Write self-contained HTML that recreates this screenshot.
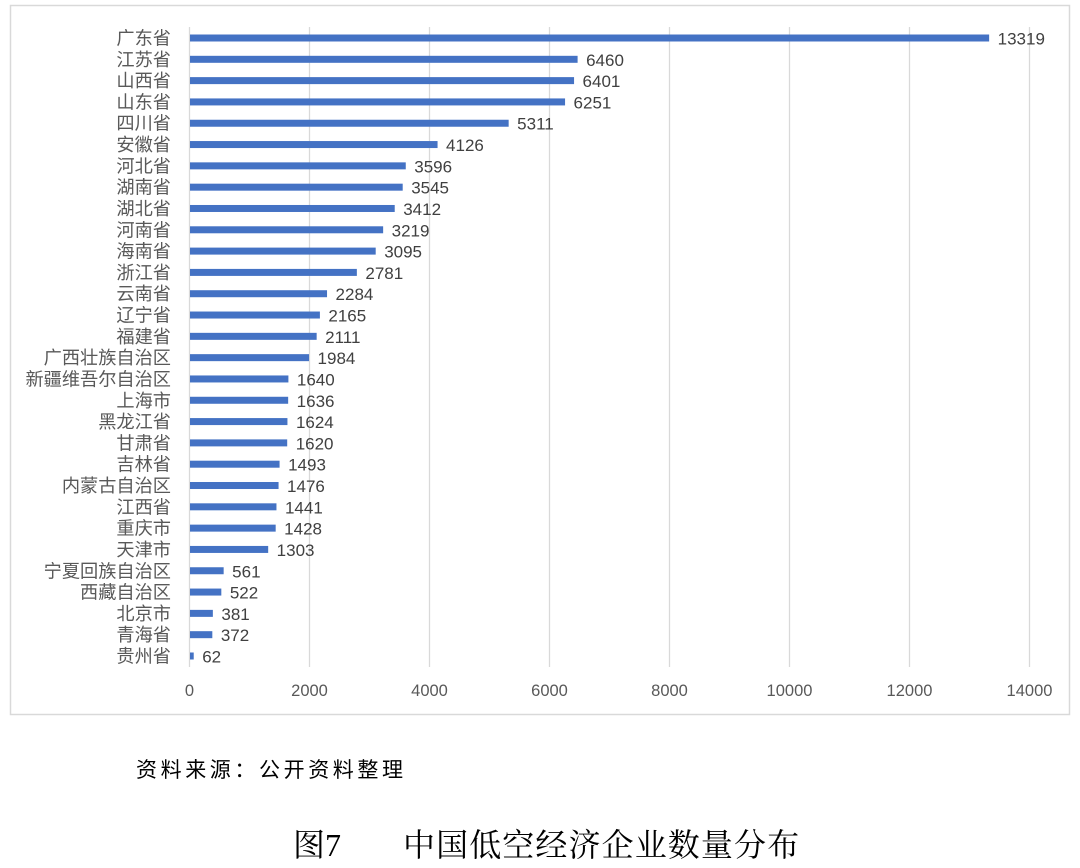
<!DOCTYPE html>
<html><head><meta charset="utf-8"><style>
body{margin:0;background:#fff;width:1080px;height:863px;overflow:hidden}
svg text{font-family:"Liberation Sans","Noto Sans CJK SC",sans-serif}
</style></head><body>
<svg width="1080" height="863" xmlns="http://www.w3.org/2000/svg">
<rect x="10.5" y="5.5" width="1059" height="709" fill="#fff" stroke="#d9d9d9" stroke-width="1.5"/>
<g id="g"></g>
<text x="136" y="777" font-size="21" letter-spacing="3.6" fill="#000">资料来源：公开资料整理</text>
<text x="293" y="856" font-size="32" fill="#000" style="font-family:'Liberation Serif','Noto Serif CJK SC',serif">图7</text>
<text x="403" y="856" font-size="32" letter-spacing="1.1" fill="#000" style="font-family:'Liberation Serif','Noto Serif CJK SC',serif">中国低空经济企业数量分布</text>
</svg>
<script>
var d=[["广东省",13319],["江苏省",6460],["山西省",6401],["山东省",6251],["四川省",5311],["安徽省",4126],["河北省",3596],["湖南省",3545],["湖北省",3412],["河南省",3219],["海南省",3095],["浙江省",2781],["云南省",2284],["辽宁省",2165],["福建省",2111],["广西壮族自治区",1984],["新疆维吾尔自治区",1640],["上海市",1636],["黑龙江省",1624],["甘肃省",1620],["吉林省",1493],["内蒙古自治区",1476],["江西省",1441],["重庆市",1428],["天津市",1303],["宁夏回族自治区",561],["西藏自治区",522],["北京市",381],["青海省",372],["贵州省",62]];
var s="",x0=189.5,k=120/2000;
for(var i=0;i<=7;i++){var x=x0+i*2000*k;s+='<line x1="'+x+'" y1="27" x2="'+x+'" y2="667" stroke="#d9d9d9" stroke-width="1.3"/>';
s+='<text x="'+x+'" y="696" font-size="16.5" fill="#595959" text-anchor="middle">'+(i*2000)+'</text>';}
d.forEach(function(r,i){var y=38+i*21.31,w=r[1]*k;
s+='<rect x="'+(x0+0.5)+'" y="'+(y-3.5)+'" width="'+w+'" height="7" fill="#4472c4"/>';
s+='<text x="171" y="'+(y+6.5)+'" font-size="18.2" fill="#595959" text-anchor="end">'+r[0]+'</text>';
s+='<text x="'+(x0+w+9)+'" y="'+(y+6.5)+'" font-size="17" fill="#404040">'+r[1]+'</text>';});
document.getElementById("g").innerHTML=s;
</script>
</body></html>
